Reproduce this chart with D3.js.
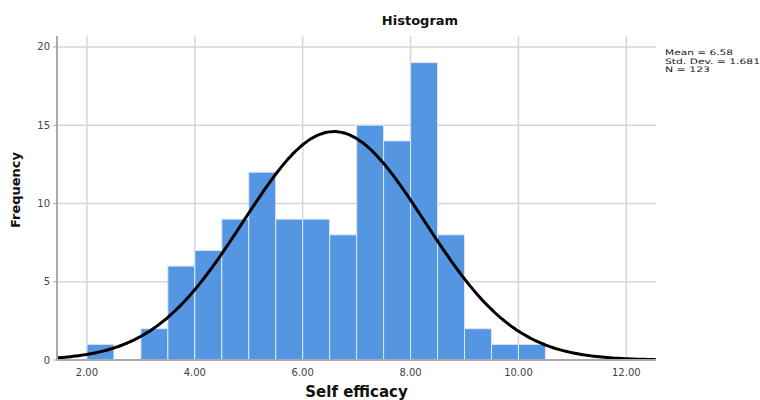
<!DOCTYPE html>
<html>
<head>
<meta charset="utf-8">
<script src="https://cdn.jsdelivr.net/npm/d3@7"></script>
<style>
  body { margin: 0; background: #fff; }
  svg { display: block; font-family: "DejaVu Sans", Verdana, sans-serif; }
</style>
</head>
<body>
<div id="chart"></div>
<script>
// bin start values (bin width 0.5) and counts
const binStarts = [2.0, 2.5, 3.0, 3.5, 4.0, 4.5, 5.0, 5.5, 6.0, 6.5, 7.0, 7.5, 8.0, 8.5, 9.0, 9.5, 10.0];
const counts    = [1,   0,   2,   6,   7,   9,   12,  9,   9,   8,   15,  14,  19,  8,   2,   1,   1];
const binWidth = 0.5;
const xTicks = [2, 4, 6, 8, 10, 12];
const yTicks = [0, 5, 10, 15, 20];
const stats = { mean: 6.58, sd: 1.681, n: 123 };
const statLines = ["Mean = 6.58", "Std. Dev. = 1.681", "N = 123"];
const statWidths = [68, 95, 45];

const W = 760, H = 400;
const margin = { top: 36, right: 104, bottom: 40, left: 57 };
const width = W - margin.left - margin.right;
const height = H - margin.top - margin.bottom;

const svg = d3.select("#chart").append("svg")
    .attr("width", W)
    .attr("height", H);

const g = svg.append("g")
    .attr("transform", `translate(${margin.left},${margin.top})`);

const x = d3.scaleLinear().domain([1.445, 12.55]).range([0, width]);
const y = d3.scaleLinear().domain([0, 20.7]).range([height, 0]);

// grid lines
g.append("g").selectAll("line")
    .data(xTicks)
    .join("line")
    .attr("x1", d => x(d)).attr("x2", d => x(d))
    .attr("y1", 0).attr("y2", height)
    .attr("stroke", "#d6d6d6").attr("stroke-width", 1.5);

g.append("g").selectAll("line")
    .data(yTicks.filter(d => d > 0))
    .join("line")
    .attr("x1", 0).attr("x2", width)
    .attr("y1", d => y(d)).attr("y2", d => y(d))
    .attr("stroke", "#d6d6d6").attr("stroke-width", 1.5);

// bars
const bins = binStarts.map((s, i) => ({ x0: s, x1: s + binWidth, count: counts[i] }));
g.append("g").selectAll("rect")
    .data(bins.filter(d => d.count > 0))
    .join("rect")
    .attr("x", d => x(d.x0))
    .attr("y", d => y(d.count))
    .attr("width", d => x(d.x1) - x(d.x0))
    .attr("height", d => y(0) - y(d.count))
    .attr("fill", "#5596e3")
    .attr("stroke", "#dce8f7")
    .attr("stroke-width", 1);

// normal curve from the stated mean, sd and N
const xs = d3.range(x.domain()[0], x.domain()[1] + 0.001, 0.05);
const pdf = v => stats.n * binWidth / (stats.sd * Math.sqrt(2 * Math.PI)) *
    Math.exp(-0.5 * Math.pow((v - stats.mean) / stats.sd, 2));
const line = d3.line()
    .x(d => x(d))
    .y(d => y(pdf(d)))
    .curve(d3.curveBasis);

g.append("path")
    .datum(xs)
    .attr("fill", "none")
    .attr("stroke", "#000")
    .attr("stroke-width", 3)
    .attr("d", line);

// axis lines
g.append("line")
    .attr("x1", 0).attr("x2", 0).attr("y1", 0).attr("y2", height)
    .attr("stroke", "#aaa").attr("stroke-width", 2);
g.append("line")
    .attr("x1", 0).attr("x2", width).attr("y1", height).attr("y2", height)
    .attr("stroke", "#aaa").attr("stroke-width", 2);

// y tick labels and small ticks
const yAxis = g.append("g");
yAxis.selectAll("line")
    .data(yTicks)
    .join("line")
    .attr("x1", -4).attr("x2", 0)
    .attr("y1", d => y(d)).attr("y2", d => y(d))
    .attr("stroke", "#aaa");
yAxis.selectAll("text")
    .data(yTicks)
    .join("text")
    .attr("x", -7)
    .attr("y", d => y(d))
    .attr("dy", "0.35em")
    .attr("text-anchor", "end")
    .attr("font-size", 10)
    .attr("fill", "#444")
    .text(d => d);

// x tick labels
g.append("g").selectAll("text")
    .data(xTicks)
    .join("text")
    .attr("x", d => x(d))
    .attr("y", height + 16)
    .attr("text-anchor", "middle")
    .attr("font-size", 10)
    .attr("fill", "#444")
    .text(d => d3.format(".2f")(d));

// titles
svg.append("text")
    .attr("x", 420)
    .attr("y", 25)
    .attr("text-anchor", "middle")
    .attr("font-size", 13)
    .attr("font-weight", "bold")
    .attr("fill", "#111")
    .text("Histogram");

svg.append("text")
    .attr("x", margin.left + width / 2)
    .attr("y", 397)
    .attr("text-anchor", "middle")
    .attr("font-size", 15)
    .attr("font-weight", "bold")
    .attr("fill", "#111")
    .text("Self efficacy");

svg.append("text")
    .attr("transform", `translate(20,190) rotate(-90)`)
    .attr("text-anchor", "middle")
    .attr("font-size", 13)
    .attr("font-weight", "bold")
    .attr("fill", "#111")
    .text("Frequency");

// stats box
svg.append("g").selectAll("text")
    .data(statLines)
    .join("text")
    .attr("x", 665)
    .attr("y", (d, i) => 55 + i * 8.7)
    .attr("font-size", 7.5)
    .attr("textLength", (d, i) => statWidths[i])
    .attr("lengthAdjust", "spacingAndGlyphs")
    .attr("fill", "#222")
    .text(d => d);
</script>
</body>
</html>
